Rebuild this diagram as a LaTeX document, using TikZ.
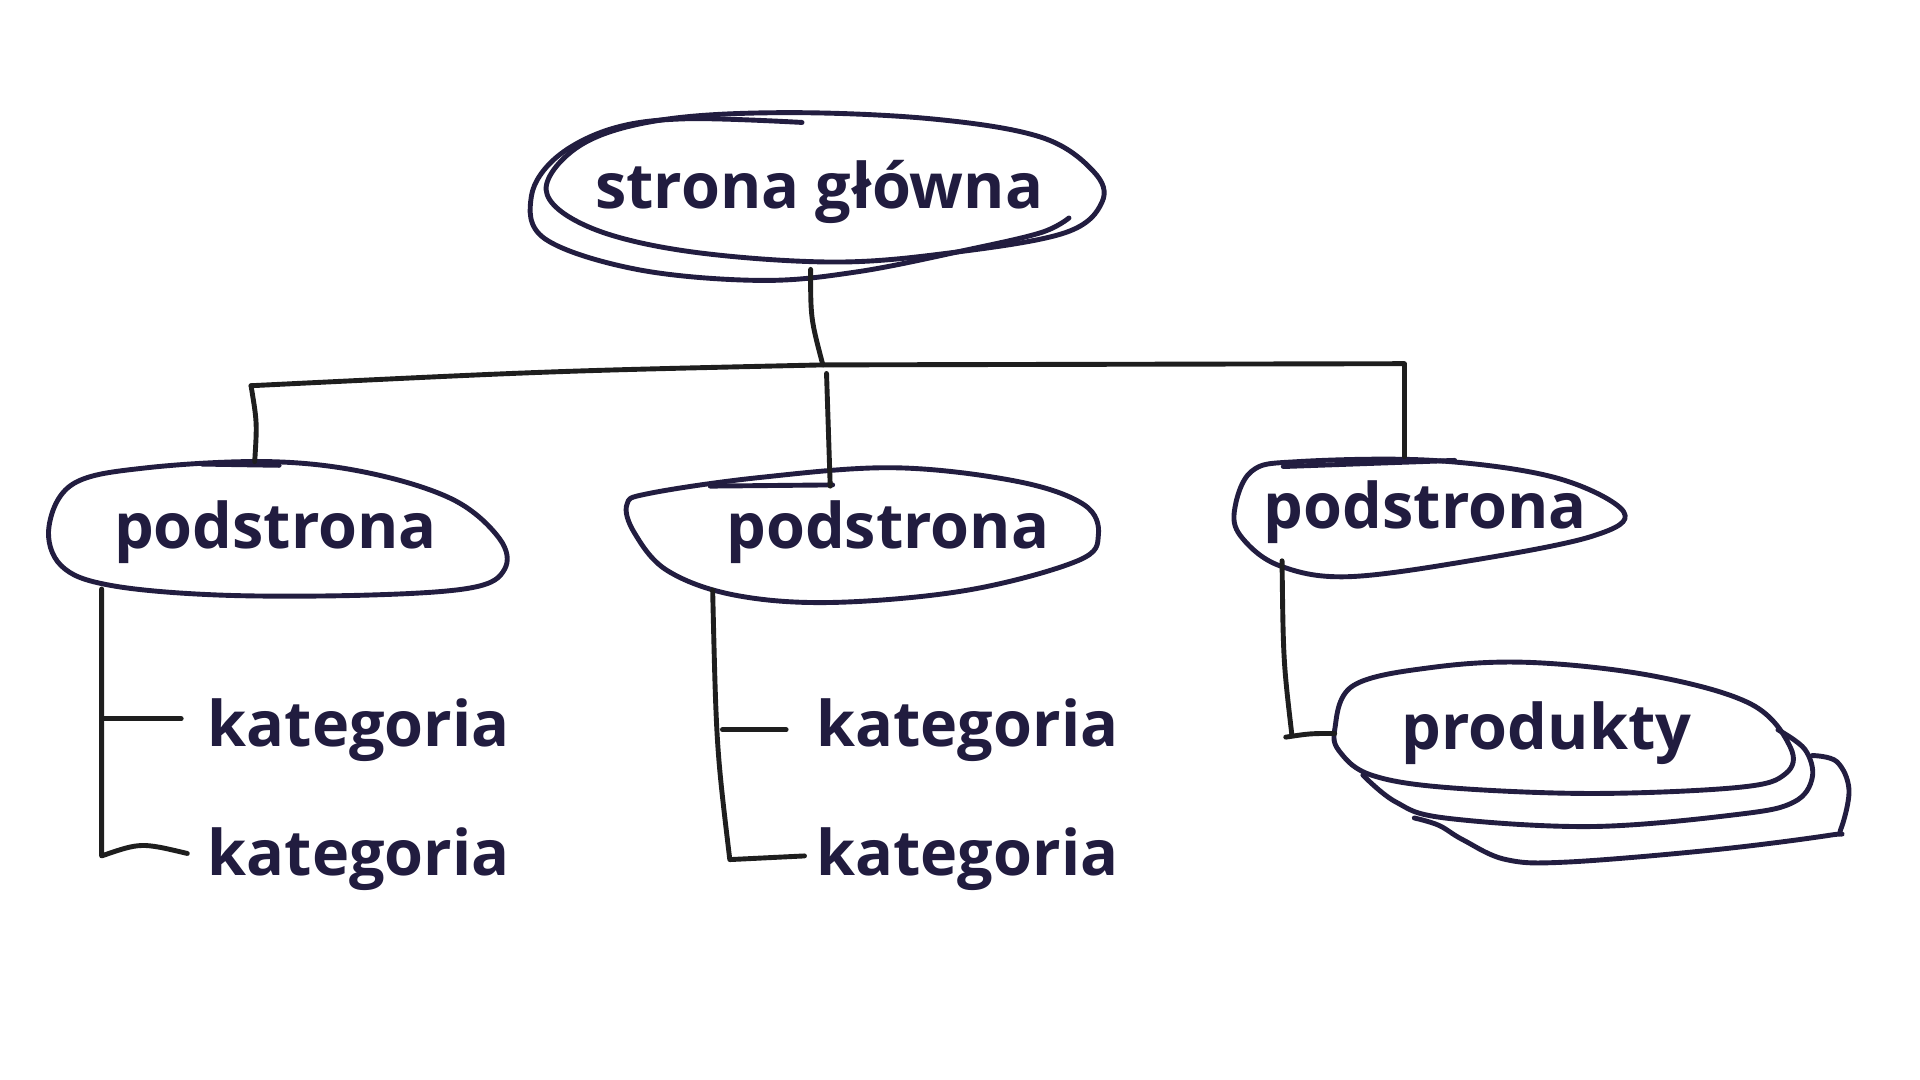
\documentclass[tikz,border=0pt]{standalone}
\usepackage{fontspec}
\setmainfont{Open Sans}
\definecolor{inkblue}{HTML}{221D40}
\definecolor{inktext}{HTML}{211C3F}
\definecolor{inkline}{HTML}{1E1E1E}
\begin{document}
\begin{tikzpicture}[x=0.5pt,y=-0.5pt,
  lbl/.style={anchor=base,inner sep=0pt,text=inktext,font=\bfseries\fontsize{25.7}{30}\selectfont},
  blob/.style={draw=inkblue,line width=2pt,line cap=round,line join=round},
  conn/.style={draw=inkline,line width=2pt,line cap=round,line join=round}]
\useasboundingbox[fill=white] (0,0) rectangle (1568,882);
% texts
\node[lbl] (home) at (669,170) {strona główna};
\node[lbl] (subA) at (225,448) {podstrona};
\node[lbl] (subB) at (725,448) {podstrona};
\node[lbl] (subC) at (1164,432) {podstrona};
\node[lbl] (prod) at (1263,612) {produkty};
\node[lbl] (katA1) at (293,610) {kategoria};
\node[lbl] (katA2) at (293,715) {kategoria};
\node[lbl] (katB1) at (790,610) {kategoria};
\node[lbl] (katB2) at (790,715) {kategoria};
% blobs
\draw[blob] plot[smooth,tension=0.6] coordinates {(655,100) (560,97) (500,105) (455,128) (434,160) (445,195) (520,220) (620,229) (700,222) (790,204) (850,190) (873,178)};
\draw[blob] plot[smooth cycle,tension=0.6] coordinates {(446,155) (475,118) (540,98) (640,92) (760,97) (850,112) (893,140) (900,165) (870,190) (780,206) (680,214) (560,205) (480,185)};
\draw[blob] plot[smooth cycle,tension=0.6] coordinates {(40,430) (60,395) (120,382) (220,377) (300,386) (370,408) (408,440) (412,465) (385,480) (300,486) (180,486) (90,478) (50,462)};
\draw[blob] (165,379) -- (228,380);
\draw[blob] plot[smooth cycle,tension=0.6] coordinates {(512,412) (530,403) (620,390) (730,382) (830,393) (885,412) (897,437) (880,458) (790,482) (680,492) (600,486) (545,466) (518,435)};
\draw[blob] (580,397) -- (680,396);
\draw[blob] plot[smooth cycle,tension=0.6] coordinates {(1008,418) (1022,385) (1060,377) (1170,376) (1270,390) (1326,418) (1300,438) (1200,458) (1100,471) (1045,462) (1015,440)};
\draw[blob] (1048,381) -- (1188,376);
\draw[blob] plot[smooth cycle,tension=0.6] coordinates {(1090,596) (1105,560) (1170,545) (1250,541) (1350,552) (1430,575) (1462,610) (1458,632) (1420,643) (1300,648) (1180,643) (1120,633) (1095,615)};
\draw[blob] plot[smooth,tension=0.6] coordinates {(1452,596) (1474,612) (1480,635) (1465,655) (1420,665) (1300,675) (1180,668) (1140,655) (1113,633)};
\draw[blob] plot[smooth,tension=0.6] coordinates {(1480,617) (1500,622) (1510,645) (1503,678) (1495,682) (1400,694) (1280,704) (1230,702) (1195,686) (1175,674) (1155,668)};
% connector coordinates
\coordinate (hb) at (662,220);
\coordinate (bj) at (672,298);
\coordinate (bl) at (205,315);
\coordinate (br) at (1147,297);
\coordinate (at) at (208,377);
\coordinate (mt) at (675,305);
\coordinate (mb) at (678,397);
\coordinate (ct) at (1147,373);
\coordinate (la) at (83,481);
\coordinate (lb) at (83,699);
\coordinate (lm) at (83,587);
\coordinate (ma) at (582,482);
\coordinate (mbb) at (596,702);
\coordinate (mm) at (590,596);
\coordinate (ra) at (1047,458);
\coordinate (rb) at (1055,600);
\coordinate (rs) at (1050,602);
\coordinate (re) at (1090,599);
% connectors
\draw[conn] (hb) .. controls (662,260) .. (bj);
\draw[conn] (bl) .. controls (450,303) .. (bj) -- (br) -- (ct);
\draw[conn] (bl) .. controls (210,345) .. (at);
\draw[conn] (mt) -- (mb);
\draw[conn] (la) -- (lb) .. controls (115,688) .. (153,697);
\draw[conn] (lm) -- (148,587);
\draw[conn] (ma) .. controls (585,610) .. (mbb) -- (657,699);
\draw[conn] (mm) -- (642,596);
\draw[conn] (ra) .. controls (1048,540) .. (rb);
\draw[conn] (rs) .. controls (1070,599) .. (re);
\end{tikzpicture}
\end{document}
